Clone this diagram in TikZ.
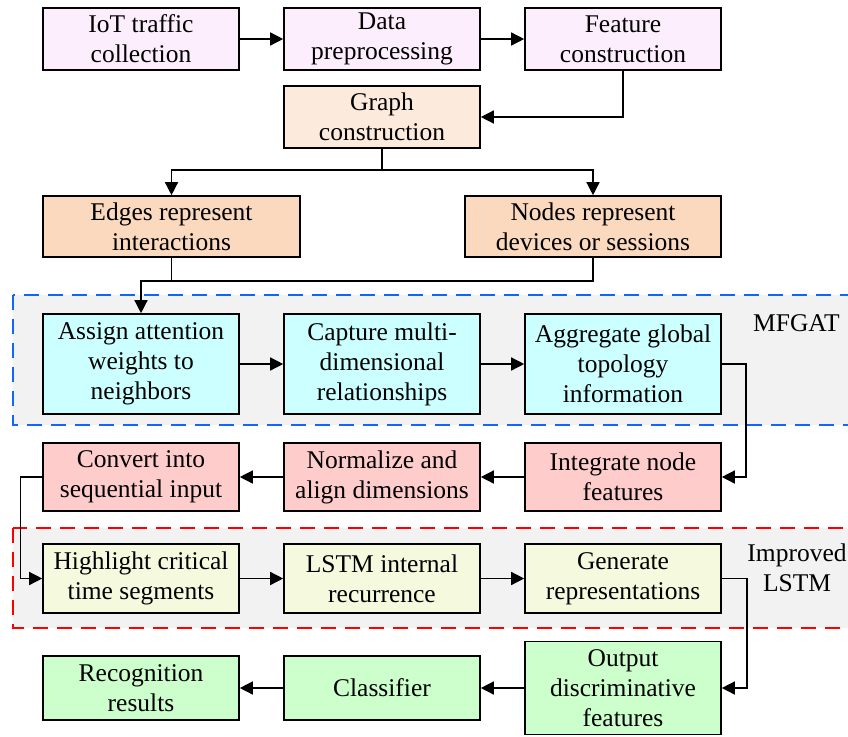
\documentclass[tikz,border=0pt]{standalone}
\usepackage{fontspec}
\setmainfont{Liberation Serif}
\usetikzlibrary{arrows.meta}

\definecolor{cLavender}{RGB}{252,238,252}
\definecolor{cPeachLight}{RGB}{252,234,220}
\definecolor{cPeach}{RGB}{250,217,190}
\definecolor{cCyan}{RGB}{204,255,255}
\definecolor{cRose}{RGB}{255,204,204}
\definecolor{cCream}{RGB}{245,249,222}
\definecolor{cMint}{RGB}{204,255,204}
\definecolor{cPanel}{RGB}{242,242,242}
\definecolor{cBlueDash}{RGB}{17,102,255}
\definecolor{cRedDash}{RGB}{255,0,0}

\begin{document}
\begin{tikzpicture}[x=1pt,y=-1pt,
  box/.style={draw=black, line width=1.6pt, align=center, inner sep=0pt,
    minimum width=196pt, font=\fontsize{25.5}{30}\selectfont},
  link/.style={line width=1.4pt, -{Triangle[length=13pt,width=13pt]}},
  plain/.style={line width=1.4pt},
  group/.style={fill=cPanel, line width=2.5pt, dash pattern=on 15pt off 9pt},
  tag/.style={font=\fontsize{25.5}{30}\selectfont, align=center, inner sep=0pt}]

\useasboundingbox (0,0) rectangle (848,736);
\clip (0,0) rectangle (848,736);

% module panels
\draw[group, draw=cBlueDash] (13,295) rectangle (880,425);
\draw[group, draw=cRedDash] (13,528) rectangle (880,628);
\node[tag, anchor=west] (mfgat) at (753,323) {MFGAT};
\node[tag] (ilstm) at (797,568) {Improved\\LSTM};

% data preparation
\node[box, fill=cLavender, minimum height=62pt] (a1) at (141,39) {IoT traffic\\collection};
\node[box, fill=cLavender, minimum height=62pt] (a2) at (382,39) {Data\\preprocessing};
\node[box, fill=cLavender, minimum height=62pt] (a3) at (623,39) {Feature\\construction};

% graph construction
\node[box, fill=cPeachLight, minimum height=62pt] (g) at (382,117) {Graph\\construction};
\node[box, fill=cPeach, minimum width=257pt, minimum height=61pt] (e) at (171.5,226.5) {Edges represent\\interactions};
\node[box, fill=cPeach, minimum width=256pt, minimum height=61pt] (n) at (593,226.5) {Nodes represent\\devices or sessions};

% MFGAT
\node[box, fill=cCyan, minimum height=100pt] (m1) at (141,364) {Assign attention\\weights to\\neighbors};
\node[box, fill=cCyan, minimum height=100pt] (m2) at (382,364) {Capture multi-\\dimensional\\relationships};
\node[box, fill=cCyan, minimum height=100pt] (m3) at (623,364) {Aggregate global\\topology\\information};

% feature fusion
\node[box, fill=cRose, minimum height=68pt] (r1) at (623,477) {Integrate node\\features};
\node[box, fill=cRose, minimum height=68pt] (r2) at (382,477) {Normalize and\\align dimensions};
\node[box, fill=cRose, minimum height=68pt] (r3) at (141,477) {Convert into\\sequential input};

% improved LSTM
\node[box, fill=cCream, minimum height=69pt] (l1) at (141,578.5) {Highlight critical\\time segments};
\node[box, fill=cCream, minimum height=69pt] (l2) at (382,578.5) {LSTM internal\\recurrence};
\node[box, fill=cCream, minimum height=69pt] (l3) at (623,578.5) {Generate\\representations};

% output stage
\node[box, fill=cMint, minimum height=93pt] (o1) at (623,688) {Output\\discriminative\\features};
\node[box, fill=cMint, minimum height=64pt] (o2) at (382,688) {Classifier};
\node[box, fill=cMint, minimum height=64pt] (o3) at (141,688) {Recognition\\results};

% connectors
\draw[link] (a1) -- (a2);
\draw[link] (a2) -- (a3);
\draw[link] (a3.south) |- (g.east);
\draw[plain] (g.south) -- ++(0,21) coordinate (gsplit);
\draw[link] (gsplit) -| (e.north);
\draw[link] (gsplit) -| (n.north);
\draw[plain] (e.south) -- ++(0,23);
\draw[link] (n.south) -- ++(0,23) -| (m1.north);
\draw[link] (m1) -- (m2);
\draw[link] (m2) -- (m3);
\draw[link] (m3.east) -- ++(24,0) |- (r1.east);
\draw[link] (r1) -- (r2);
\draw[link] (r2) -- (r3);
\draw[link] (r3.west) -- ++(-22,0) |- (l1.west);
\draw[link] (l1) -- (l2);
\draw[link] (l2) -- (l3);
\draw[link] (l3.east) -- ++(25,0) |- (o1.east);
\draw[link] (o1) -- (o2);
\draw[link] (o2) -- (o3);
\end{tikzpicture}
\end{document}
